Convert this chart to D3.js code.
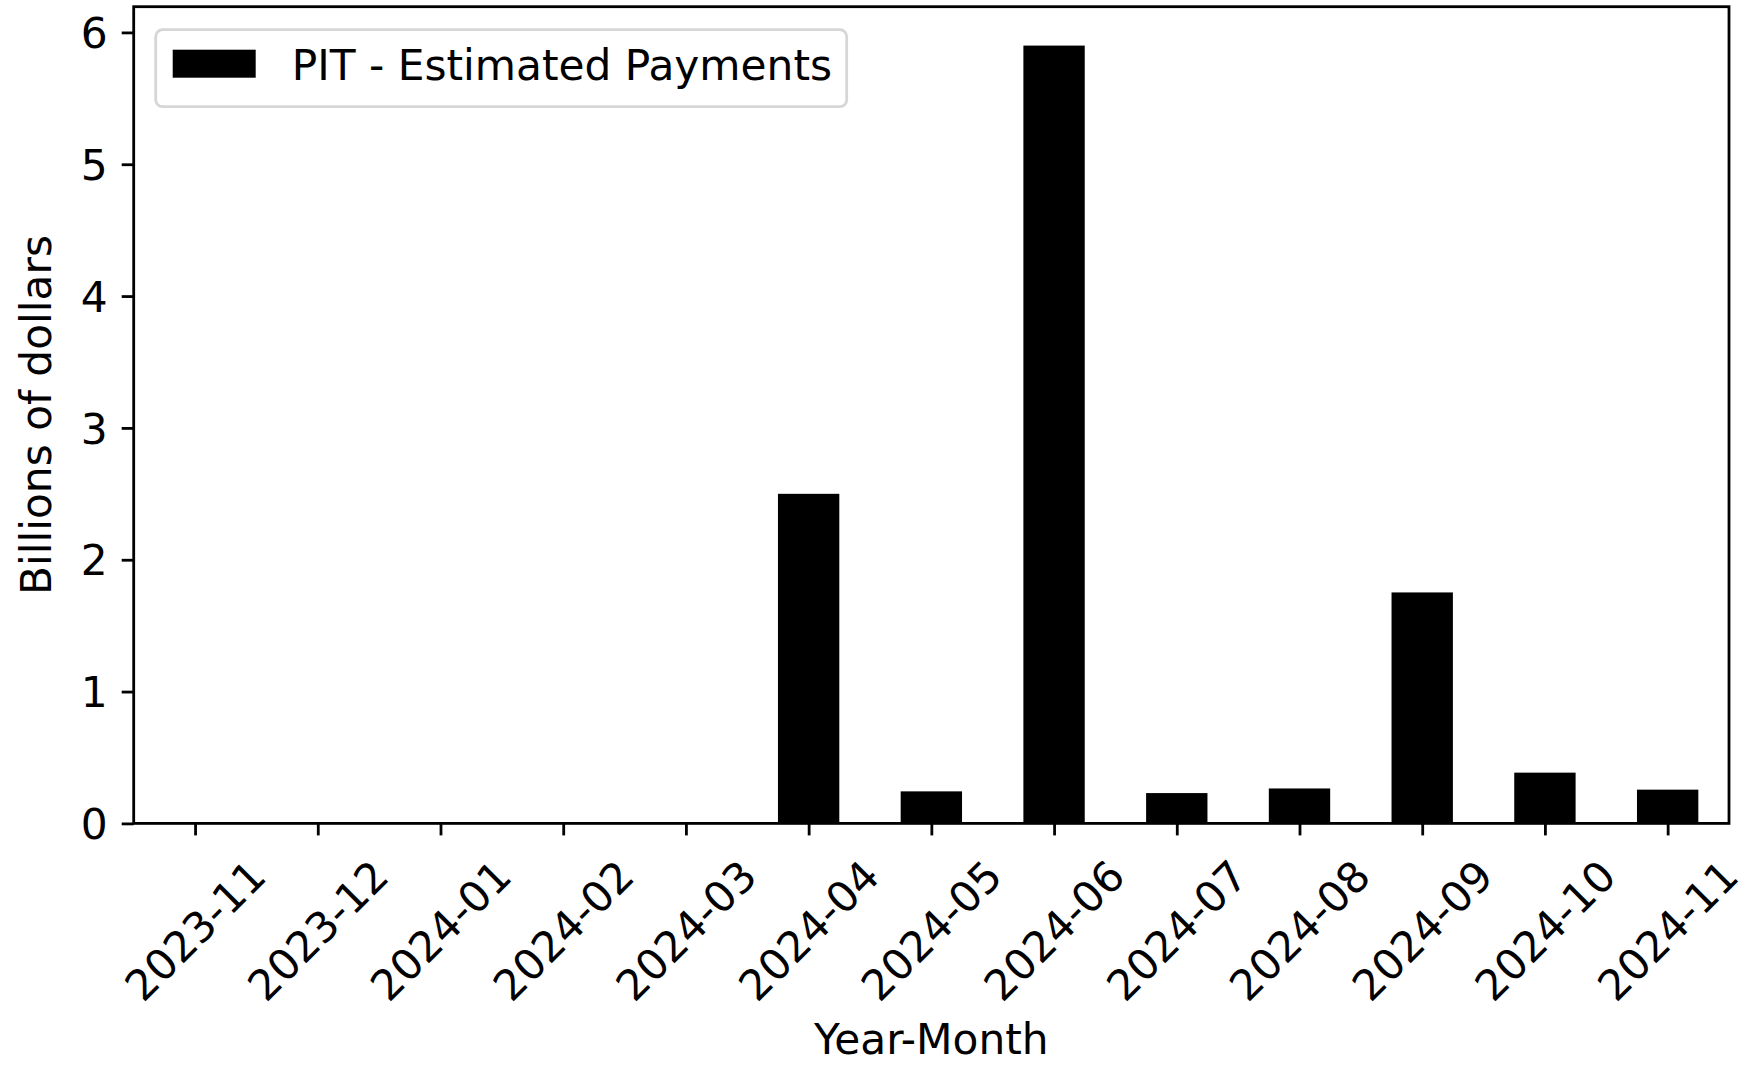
<!DOCTYPE html>
<html>
<head>
<meta charset="utf-8">
<script src="https://cdn.jsdelivr.net/npm/d3@7"></script>
<style>
  body { margin: 0; background: #fff; }
  text { font-family: "DejaVu Sans", sans-serif; fill: #000; }
</style>
</head>
<body>
<div id="chart-area"></div>
<script>
// Data
var months = ["2023-11", "2023-12", "2024-01", "2024-02", "2024-03", "2024-04",
              "2024-05", "2024-06", "2024-07", "2024-08", "2024-09", "2024-10", "2024-11"];
var estimatedPayments = [0, 0, 0, 0, 0, 2.5, 0.243, 5.9, 0.23, 0.265, 1.752, 0.385, 0.256];
var yTicks = [0, 1, 2, 3, 4, 5, 6];
var seriesName = "PIT - Estimated Payments";

var width = 1747,
    height = 1065,
    margin = {left: 133.7, right: 18, top: 6.7, bottom: 241.6},
    fontSize = 42.3,
    lw = 2.8;

var innerW = width - margin.left - margin.right,
    innerH = height - margin.top - margin.bottom;

var svg = d3.select("#chart-area").append("svg")
    .attr("width", width)
    .attr("height", height);

var g = svg.append("g")
    .attr("transform", "translate(" + margin.left + "," + margin.top + ")");

// x: positions -0.5 .. n-0.5 like pandas bar plot
var x = d3.scaleLinear()
    .domain([-0.5, months.length - 0.5])
    .range([0, innerW]);

var yMax = d3.max(estimatedPayments) * 1.05;
var y = d3.scaleLinear()
    .domain([0, yMax])
    .range([innerH, 0]);

// bars
g.selectAll(".bar").data(estimatedPayments).enter().append("rect")
    .attr("class", "bar")
    .attr("x", function(d, i) { return x(i - 0.25); })
    .attr("width", x(0.25) - x(-0.25))
    .attr("y", function(d) { return y(d); })
    .attr("height", function(d) { return innerH - y(d); })
    .attr("fill", "#000");

// y axis
var yAxis = g.append("g")
    .call(d3.axisLeft(y).tickValues(yTicks).tickFormat(d3.format("d")).tickSize(12).tickPadding(14));
yAxis.select(".domain").remove();
yAxis.selectAll(".tick line").attr("stroke-width", lw);
yAxis.selectAll(".tick text")
    .style("font-size", fontSize + "px")
    .attr("dy", "0.36em");

// x axis
var xAxis = g.append("g")
    .attr("transform", "translate(0," + innerH + ")")
    .call(d3.axisBottom(x).tickValues(d3.range(months.length)).tickFormat(function(i) { return months[i]; }).tickSize(12));
xAxis.select(".domain").remove();
xAxis.selectAll(".tick line").attr("stroke-width", lw);

// rotated labels, bbox centered under tick (matplotlib rotation=45, ha=center)
xAxis.selectAll(".tick text")
    .style("font-size", fontSize + "px")
    .attr("text-anchor", "middle")
    .attr("dominant-baseline", "central")
    .attr("dy", null)
    .each(function() {
        var t = d3.select(this);
        var w = this.getComputedTextLength();
        var h = fontSize * 1.0;
        var half = (w + h) / (2 * Math.SQRT2);
        var top = 30;
        t.attr("y", 0).attr("transform", "translate(0," + (top + half) + ") rotate(-45)");
    });

// frame
g.append("rect")
    .attr("width", innerW)
    .attr("height", innerH)
    .attr("fill", "none")
    .attr("stroke", "#000")
    .attr("stroke-width", lw);

// axis labels
svg.append("text")
    .attr("x", margin.left + innerW / 2)
    .attr("y", 1054)
    .attr("text-anchor", "middle")
    .style("font-size", fontSize + "px")
    .text("Year-Month");

svg.append("text")
    .attr("transform", "translate(51," + (margin.top + innerH / 2) + ") rotate(-90)")
    .attr("text-anchor", "middle")
    .style("font-size", fontSize + "px")
    .text("Billions of dollars");

// legend
var legend = g.append("g")
    .attr("transform", "translate(22,23)");

legend.append("rect")
    .attr("width", 691)
    .attr("height", 77)
    .attr("rx", 7)
    .attr("fill", "#fff")
    .attr("fill-opacity", 0.8)
    .attr("stroke", "#d6d6d6")
    .attr("stroke-width", lw);

legend.append("rect")
    .attr("x", 17)
    .attr("y", 20)
    .attr("width", 83)
    .attr("height", 28)
    .attr("fill", "#000");

legend.append("text")
    .attr("x", 136)
    .attr("y", 50)
    .style("font-size", fontSize + "px")
    .text(seriesName);
</script>
</body>
</html>
